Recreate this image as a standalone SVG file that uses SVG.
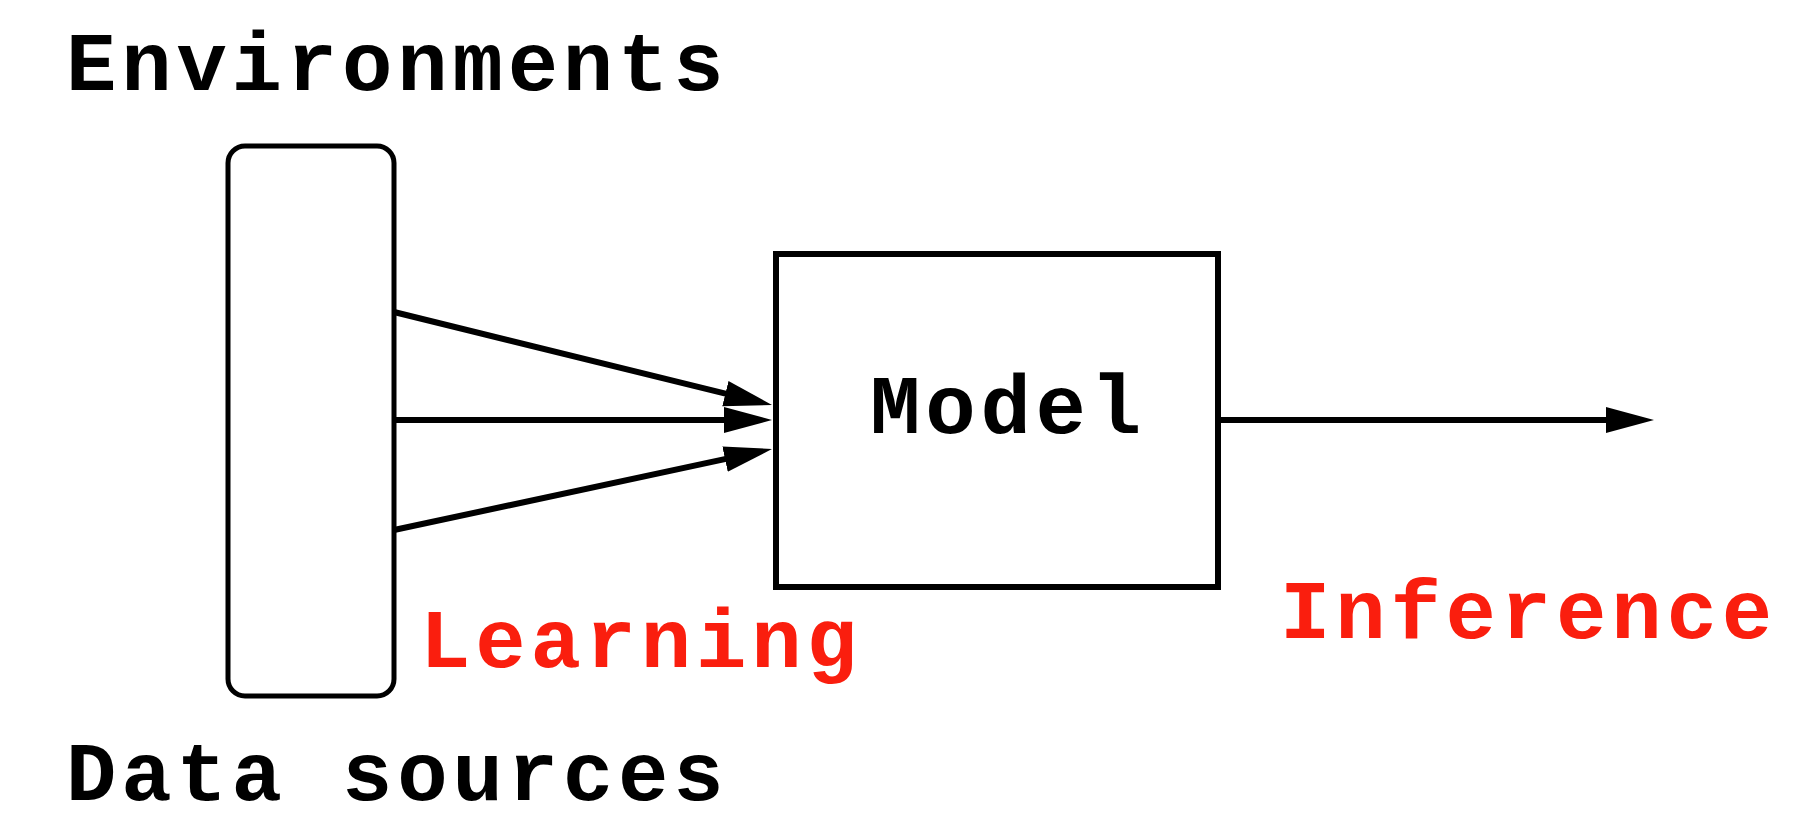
<svg xmlns="http://www.w3.org/2000/svg" width="1794" height="824" viewBox="0 0 1794 824">
<style>
.t{font-family:"Liberation Mono","Courier New",monospace;font-weight:bold;font-size:84px;letter-spacing:4.8px;fill:#000}
.r{fill:#fa1e0e}
.box{fill:#fff;stroke:#000;stroke-width:5}
.mbox{fill:#fff;stroke:#000;stroke-width:6}
.ln{stroke:#000;stroke-width:6;fill:none}
</style>
<defs>
<marker id="ah" markerUnits="userSpaceOnUse" markerWidth="50" markerHeight="30" refX="20" refY="15" orient="auto">
<path d="M0,2 L48,15 L0,28 Z" fill="#000"/>
</marker>
</defs>
<rect width="1794" height="824" fill="#fff"/>
<g id="environments-label"><text class="t" x="66" y="90">Environments</text></g>
<g id="data-sources-label"><text class="t" x="66" y="800">Data sources</text></g>
<g id="sources"><rect class="box" x="228" y="146" width="166" height="550" rx="17" ry="17"/></g>
<g id="model"><rect class="mbox" x="776" y="254" width="442" height="333"/><text class="t" x="870" y="433">Model</text></g>
<g id="connectors">
<line class="ln" x1="394" y1="312" x2="744.8" y2="398.3" marker-end="url(#ah)"/>
<line class="ln" x1="394" y1="420" x2="744" y2="420" marker-end="url(#ah)"/>
<line class="ln" x1="394" y1="530" x2="744.6" y2="454.9" marker-end="url(#ah)"/>
<line class="ln" x1="1218" y1="420" x2="1626" y2="420" marker-end="url(#ah)"/>
</g>
<g id="learning-label"><text class="t r" x="420" y="667">Learning</text></g>
<g id="inference-label"><text class="t r" x="1280" y="638">Inference</text></g>
</svg>
